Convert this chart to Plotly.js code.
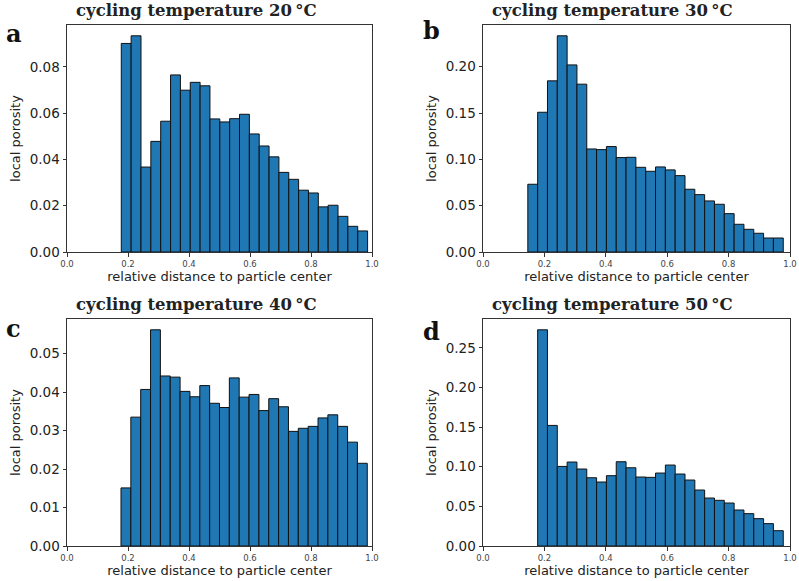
<!DOCTYPE html>
<html>
<head>
<meta charset="utf-8">
<script src="https://cdn.plot.ly/plotly-3.0.1.min.js"></script>
<style>
  body { margin: 0; background: #fff; }
  #chart { width: 799px; height: 581px; }
</style>
</head>
<body>
<div id="chart"></div>
<script>
// local porosity per radial bin
var porosity20 = [0.0901, 0.0934, 0.0367, 0.0478, 0.0565, 0.0765, 0.0699, 0.0733, 0.0718, 0.0575,
                  0.0562, 0.0576, 0.0595, 0.0510, 0.0458, 0.0411, 0.0344, 0.0314, 0.0267, 0.0255,
                  0.0195, 0.0202, 0.0154, 0.0111, 0.0091];
var porosity30 = [0.0731, 0.1508, 0.1847, 0.2333, 0.2019, 0.1811, 0.1112, 0.1105, 0.1138, 0.1019,
                  0.1022, 0.0914, 0.0871, 0.0918, 0.0886, 0.0824, 0.0677, 0.0619, 0.0551, 0.0515,
                  0.0414, 0.0299, 0.0245, 0.0202, 0.0151, 0.0151];
var porosity40 = [0.0151, 0.0335, 0.0407, 0.0562, 0.0442, 0.0439, 0.0402, 0.0388, 0.0417, 0.0371,
                  0.0360, 0.0437, 0.0387, 0.0394, 0.0352, 0.0383, 0.0362, 0.0298, 0.0306, 0.0311,
                  0.0333, 0.0341, 0.0311, 0.0270, 0.0215];
var porosity50 = [0.2727, 0.1521, 0.1004, 0.1059, 0.0971, 0.0861, 0.0807, 0.0887, 0.1063, 0.0987,
                  0.0870, 0.0866, 0.0920, 0.1021, 0.0908, 0.0832, 0.0706, 0.0605, 0.0576, 0.0542,
                  0.0454, 0.0408, 0.0345, 0.0282, 0.0193];

// left edge of the first bin and bin width (relative distance units)
var binStart = [0.178, 0.146, 0.177, 0.178];
var binWidth = [0.0323, 0.0320, 0.0323, 0.0320];

var temperatures = [20, 30, 40, 50];
var panelLetters = ['a', 'b', 'c', 'd'];
var xTicks = [0, 0.2, 0.4, 0.6, 0.8, 1.0];
var yTicks = [
  [0, 0.02, 0.04, 0.06, 0.08],
  [0, 0.05, 0.10, 0.15, 0.20],
  [0, 0.01, 0.02, 0.03, 0.04, 0.05],
  [0, 0.05, 0.10, 0.15, 0.20, 0.25]
];

var series = [porosity20, porosity30, porosity40, porosity50];

var W = 799, H = 581;
// axes boxes in pixels: [left, right, top, bottom]
var boxes = [
  [67, 372, 25, 252],
  [483, 790, 25, 252],
  [67, 372, 319, 546],
  [483, 790, 319, 546]
];
var titleCenters = [196, 612, 196, 612];
var letterPos = [[4, 33], [421, 31], [4, 328], [421, 331]];

var data = [];
var layout = {
  width: W,
  height: H,
  margin: {l: 0, r: 0, t: 0, b: 0},
  paper_bgcolor: '#fff',
  plot_bgcolor: '#fff',
  showlegend: false,
  bargap: 0,
  font: {family: 'DejaVu Sans, sans-serif', color: '#222'},
  annotations: []
};

for (var i = 0; i < 4; i++) {
  var n = i === 0 ? '' : String(i + 1);
  var b = boxes[i];
  var maxVal = Math.max.apply(null, series[i]);

  data.push({
    type: 'bar',
    y: series[i],
    x0: binStart[i] + binWidth[i] / 2,
    dx: binWidth[i],
    width: binWidth[i],
    xaxis: 'x' + n,
    yaxis: 'y' + n,
    marker: {color: '#1f77b4', line: {color: '#111', width: 1}},
    hoverinfo: 'x+y'
  });

  layout['xaxis' + n] = {
    domain: [b[0] / W, b[1] / W],
    anchor: 'y' + n,
    range: [0, 1],
    tickvals: xTicks,
    tickformat: '.1f',
    ticks: 'outside',
    ticklen: 3.5,
    tickcolor: '#333',
    tickfont: {size: 8.5, color: '#444'},
    showgrid: false,
    zeroline: false,
    showline: true,
    mirror: true,
    linecolor: '#333',
    linewidth: 1,
    title: {text: 'relative distance to particle center', font: {size: 13, color: '#222'}, standoff: 4}
  };
  layout['yaxis' + n] = {
    domain: [1 - b[3] / H, 1 - b[2] / H],
    anchor: 'x' + n,
    range: [0, maxVal * 1.05],
    tickvals: yTicks[i],
    tickformat: '.2f',
    ticks: 'outside',
    ticklen: 3.5,
    tickcolor: '#333',
    tickfont: {size: 13.5, color: '#222'},
    showgrid: false,
    zeroline: false,
    showline: true,
    mirror: true,
    linecolor: '#333',
    linewidth: 1,
    title: {text: 'local porosity', font: {size: 13, color: '#222'}, standoff: 6}
  };

  layout.annotations.push({
    text: '<b>cycling temperature ' + temperatures[i] + '\u2009°C</b>',
    xref: 'paper', yref: 'paper',
    x: titleCenters[i] / W, y: 1 - (b[2] - 3) / H,
    xanchor: 'center', yanchor: 'bottom',
    showarrow: false,
    font: {family: 'DejaVu Serif, serif', size: 16.5, color: '#222'}
  });
  layout.annotations.push({
    text: '<b>' + panelLetters[i] + '</b>',
    xref: 'paper', yref: 'paper',
    x: letterPos[i][0] / W, y: 1 - letterPos[i][1] / H,
    xanchor: 'left', yanchor: 'middle',
    showarrow: false,
    font: {family: 'DejaVu Serif, serif', size: 24, color: '#111'}
  });
}

Plotly.newPlot('chart', data, layout, {displayModeBar: false, staticPlot: true});
</script>
</body>
</html>
